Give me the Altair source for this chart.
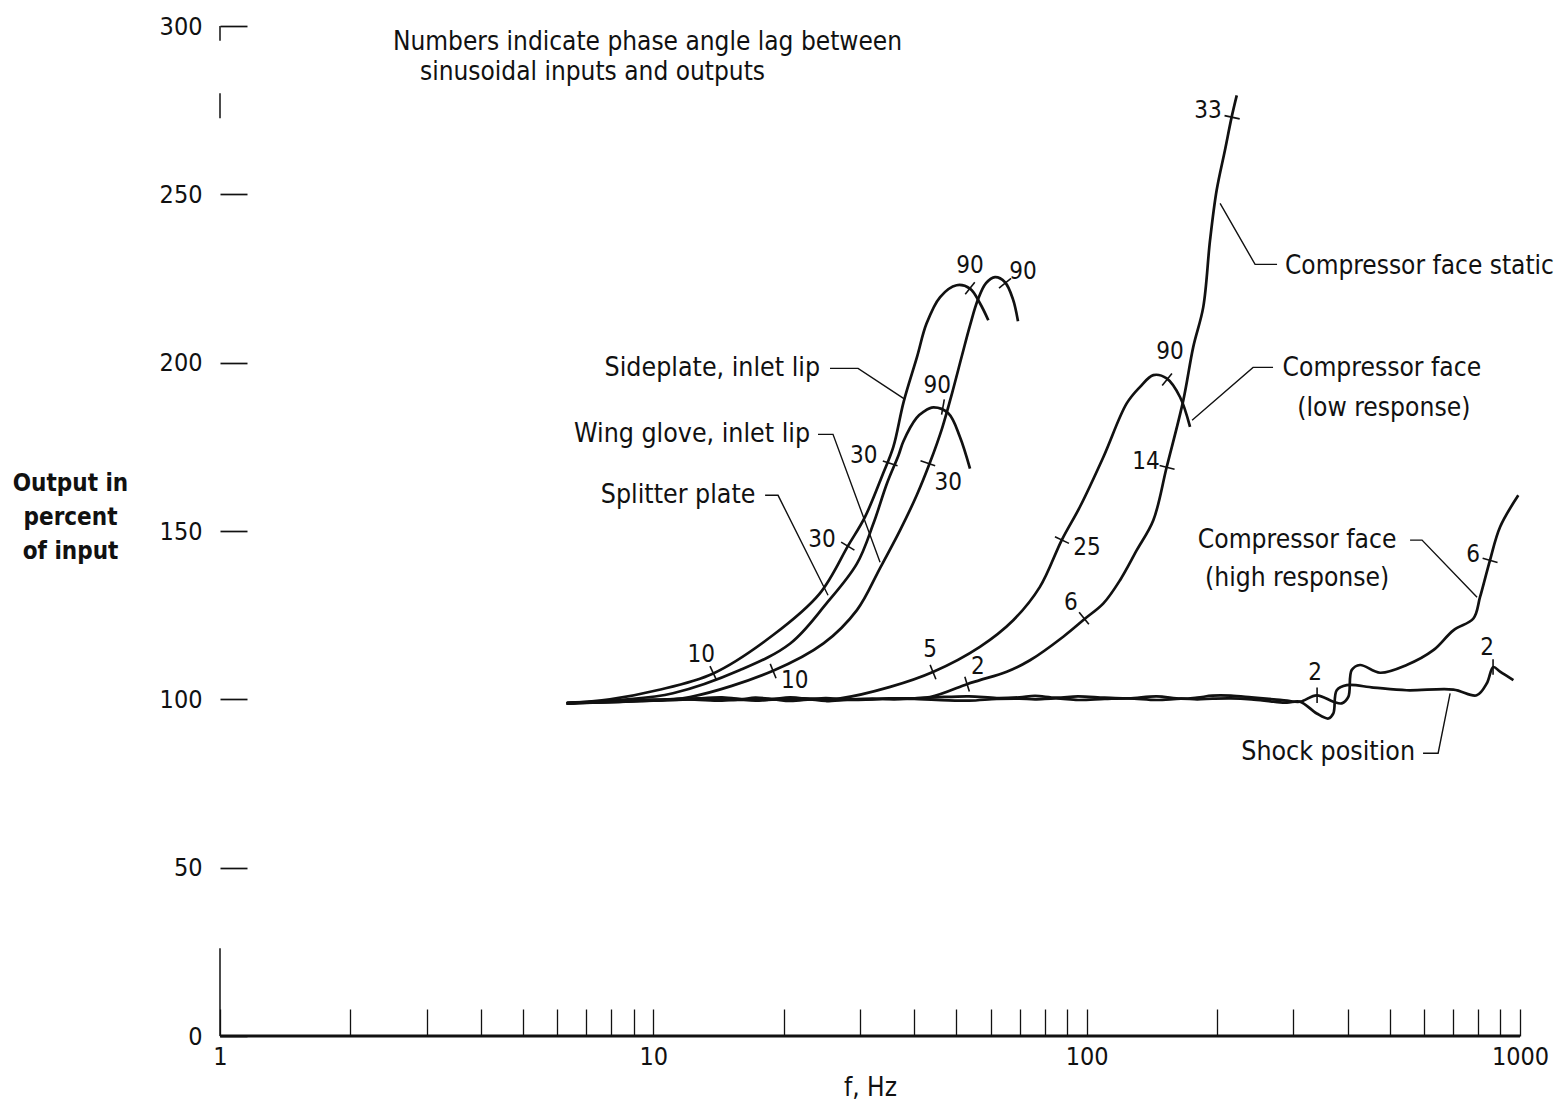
import altair as alt
import pandas as pd

FONT = "Liberation Sans Narrow, DejaVu Sans Condensed, Roboto, sans-serif"
INK = "#111111"

# ---------------- curve data (f in Hz, output in percent) ----------------
side_f = [6.31, 7.94, 10.2, 13.75, 18.9, 24.2, 28.2, 30.8, 33.9, 35.8, 37.8, 40.6, 42.7, 45.9, 50.1, 53.8, 56.8, 59.3]
side_v = [98.8, 100.0, 102.7, 107.7, 119.1, 131.4, 145.8, 154.2, 167.1, 175.0, 188.3, 201.7, 211.6, 219.5, 223.0, 222.0, 217.5, 212.6]

split_f = [6.31, 8.38, 11.1, 15.85, 20.7, 25.1, 29.5, 32.2, 34.6, 36.8, 37.75, 40.5, 42.0, 44.3, 48.0, 51.0, 53.8]
split_v = [98.8, 99.8, 101.8, 108.7, 116.6, 128.5, 140.3, 152.2, 164.1, 172.5, 176.6, 183.6, 185.4, 186.7, 184.9, 177.9, 168.5]

glove_f = [6.31, 9.3, 12.15, 18.9, 24.7, 29.5, 33.36, 37.09, 40.53, 43.51, 46.38, 48.9, 51.57, 53.81, 56.14, 58.58,
           61.45, 64.79, 67.61, 69.43]
glove_v = [98.8, 99.5, 100.7, 108.5, 116.6, 126.5, 139.0, 150.2, 160.6, 170.4, 180.5, 190.9, 202.2, 211.1, 218.8, 223.6,
           225.4, 223.9, 218.8, 212.3]

low_f = [6.31, 8, 10, 13, 16, 20, 24, 27.0, 35.2, 44.3, 56.7, 67.7, 78.0, 87.6, 96.5, 109.3, 123.7, 132.8, 142.5, 153.0, 164.2, 173.2]
low_v = [98.8, 99.3, 99.8, 100.2, 99.8, 100.2, 100.0, 100.3, 103.7, 108.2, 115.6, 123.5, 133.4, 147.3, 157.2, 172.0, 187.9, 192.8, 196.3, 195.3, 189.8, 180.9]

static_f = [6.31, 8, 10, 14, 18, 22, 28, 35, 43.5, 52.9, 56.7, 65.4, 74.0, 88.3, 99.2, 109.3, 119.4, 130.5, 142.5, 153.0,
            167.1, 176.2, 185.8, 192.6, 199.5, 208.5, 216.1, 222.0]
static_v = [98.8, 99.5, 99.9, 100.3, 99.8, 100.3, 99.8, 100.3, 100.7, 104.5, 105.7, 108.2, 111.6, 118.6, 124.0, 128.5, 135.4, 144.3, 153.2, 169.0,
            188.8, 204.7, 216.5, 236.3, 251.2, 263.1, 273.0, 279.4]

high_f = [6.31, 8, 10, 12, 14.4, 16, 17.2, 19, 20.7, 23, 25, 28, 32, 36, 40, 45, 53.5, 62, 70, 76, 85, 95.5, 110, 125, 145,
          165, 180, 195, 215, 240, 270, 290, 310.7,
          339.6, 370.9, 387.8, 401.6, 408.9, 427.4, 475.5, 547.6, 631, 701.9, 780.6, 808.8, 852.5, 899.5, 991]
high_v = [99.0, 99.4, 99.7, 100.0, 100.6, 100.0, 99.6, 100.1, 100.6, 100.0, 99.5, 99.9, 100.2, 100.0, 100.3, 100.6, 100.9, 100.4,
          100.6, 101.0, 100.5, 100.9, 100.5, 100.3, 100.9, 100.2, 100.5, 101.1, 101.1, 100.6, 100.0, 99.6, 99.3,
          101.2, 99.3, 98.8, 100.7, 108.7, 110.2, 107.9, 110.2, 114.6, 120.5, 124.0, 130.4, 141.3, 151.2, 160.6]

shock_f = [6.31, 8, 10, 12, 14.4, 16, 17.2, 19, 20.7, 23, 25, 28, 32, 36, 40, 45, 53.5, 62, 70, 76, 85, 95.5, 110, 125, 145,
           165, 180, 195, 215, 240, 270, 290, 310.7,
           339.6, 361.2, 370.9, 377.6, 398.3, 458.8, 547.6, 701.9, 794.3, 837.8, 868, 899.5, 965.5]
shock_v = [98.8, 99.2, 99.6, 100.0, 99.6, 100.0, 100.5, 100.0, 99.5, 100.0, 100.4, 99.9, 100.0, 100.2, 100.1, 99.8, 99.6, 100.1,
           100.2, 100.0, 100.3, 99.8, 100.1, 100.3, 99.8, 100.2, 100.0, 100.2, 100.3, 100.0, 99.3, 99.0, 99.3,
           95.8, 94.3, 95.8, 102.7, 104.2, 103.5, 102.7, 102.9, 101.2, 104.7, 109.6, 108.2, 105.7]

# ---------------- phase-angle tick marks ----------------
tick_f = [13.75, 18.9, 28.1, 35.2, 43.0, 53.8, 64.8, 46.6, 44.2, 87.7, 153.3, 52.97, 98.6, 153.3, 216.6, 340.2, 853, 866.6]
tick_v = [107.8, 108.4, 145.5, 170.1, 170.1, 222.1, 223.6, 186.8, 108.1, 147.3, 195.0, 104.5, 124.1, 168.9, 272.9, 101.2, 141.3, 109.6]
tick_ang = [65, 68, 31, 18, 19, 128, 141, 100, 68, 25, 129, 73, 51, 14, 12, 90, 16, 90]

lab_text = ["10", "10", "30", "30", "30", "90", "90", "90", "5", "2", "25", "6", "90", "14", "33", "2", "6", "2"]
lab_f = [12.9, 21.2, 24.5, 30.6, 47.9, 53.8, 71.3, 45.2, 43.5, 56.1, 100.2, 92.0, 155.7, 137.1, 190.6, 336.6, 779.3, 839.5]
lab_v = [113.1, 105.4, 147.3, 172.2, 164.2, 228.6, 226.8, 193.0, 114.6, 109.6, 144.9, 128.6, 203.1, 170.4, 274.9, 107.8, 142.8, 115.2]

# ---------------- annotations ----------------
right_text = ["Sideplate, inlet lip", "Wing glove, inlet lip", "Splitter plate", "Shock position"]
right_f = [24.25, 23.0, 17.2, 572.5]
right_v = [198.3, 178.7, 160.6, 84.3]

left_text = ["Compressor face static", "Numbers indicate phase angle lag between", "sinusoidal inputs and outputs"]
left_f = [286.9, 2.507, 2.894]
left_v = [228.6, 295.1, 286.2]

center_text = ["Compressor face", "(low response)", "Compressor face", "(high response)"]
center_f = [480, 485, 306, 306]
center_v = [198.3, 186.5, 147.3, 136.0]

lead_group = ["side"] * 3 + ["glove"] * 3 + ["split"] * 3 + ["static"] * 3 + ["low"] * 3 + ["high"] * 3 + ["shock"] * 3
lead_f = [25.57, 29.68, 38.09, 23.99, 25.98, 33.36, 18.11, 19.40, 25.30, 275, 244.7, 203.2,
          269.2, 242.1, 175.1, 557.6, 594.2, 796, 597.4, 647.2, 689.8]
lead_v = [198.3, 198.3, 189.1, 178.7, 178.7, 140.7, 160.6, 160.6, 130.9, 229.2, 229.2, 247.3,
          198.6, 198.6, 182.9, 147.3, 147.3, 130.3, 84.0, 84.0, 101.8]

x_tick_values = [1, 2, 3, 4, 5, 6, 7, 8, 9, 10, 20, 30, 40, 50, 60, 70, 80, 90,
                 100, 200, 300, 400, 500, 600, 700, 800, 900, 1000]
y_tick_values = [0, 50, 100, 150, 200, 250, 300]

# partial left axis line pieces (value ranges)
yaxis_lo = [0, 272.6, 295.6]
yaxis_hi = [26.1, 280.0, 300]

# ---------------- build tables ----------------
rows = []
for name, fs, vs in [("Sideplate", side_f, side_v), ("Splitter", split_f, split_v), ("Wing glove", glove_f, glove_v),
                     ("Low", low_f, low_v), ("Static", static_f, static_v), ("High", high_f, high_v),
                     ("Shock", shock_f, shock_v)]:
    for i, (f, v) in enumerate(zip(fs, vs)):
        rows.append({"series": name, "f": f, "v": v, "i": i})
curves = pd.DataFrame(rows)

ticks = pd.DataFrame({"f": tick_f, "v": tick_v, "ang": tick_ang})
labels = pd.DataFrame({"f": lab_f, "v": lab_v, "t": lab_text})
right_df = pd.DataFrame({"f": right_f, "v": right_v, "t": right_text})
left_df = pd.DataFrame({"f": left_f, "v": left_v, "t": left_text})
center_df = pd.DataFrame({"f": center_f, "v": center_v, "t": center_text})
leads = pd.DataFrame({"g": lead_group, "f": lead_f, "v": lead_v, "i": list(range(len(lead_f)))})
xbase = pd.DataFrame({"f": [1], "f2": [1000], "v": [0]})
yaxis = pd.DataFrame({"f": [1] * len(yaxis_lo), "v": yaxis_lo, "v2": yaxis_hi})

xscale = alt.Scale(type="log", domain=[1, 1000])
yscale = alt.Scale(domain=[0, 300], nice=False, zero=True)

X = alt.X("f:Q", scale=xscale,
          axis=alt.Axis(values=x_tick_values,
                        labelExpr="(datum.value == 1 || datum.value == 10 || datum.value == 100 || datum.value == 1000) ? format(datum.value, 'd') : ''",
                        tickSize=27, offset=-27, domain=False, grid=False, tickColor=INK, tickWidth=1.3,
                        labelFont=FONT, labelFontSize=25, labelColor=INK, labelPadding=8, labelFlush=False,
                        labelOverlap=False, title="f,  Hz", titleFont=FONT, titleFontSize=26,
                        titleFontWeight="normal", titleColor=INK, titlePadding=5))
Y = alt.Y("v:Q", scale=yscale,
          axis=alt.Axis(values=y_tick_values, tickSize=27, offset=-27, domain=False, grid=False,
                        tickColor=INK, tickWidth=1.7, labelFont=FONT, labelFontSize=25, labelColor=INK,
                        labelPadding=18, labelFlush=False,
                        title=["Output in", "percent", "of input"], titleFont=FONT, titleFontSize=24,
                        titleFontWeight="bold", titleColor=INK, titleAngle=0, titleAlign="center",
                        titleBaseline="middle", titleLineHeight=34, titleX=-177, titleY=457))

lines = alt.Chart(curves).mark_line(color=INK, strokeWidth=2.7, interpolate="catmull-rom").encode(
    x=X, y=Y, detail="series:N", order="i:Q")

base_rule = alt.Chart(xbase).mark_rule(color=INK, strokeWidth=3.2).encode(
    x="f:Q", x2="f2:Q", y="v:Q")
y_rule = alt.Chart(yaxis).mark_rule(color=INK, strokeWidth=1.5).encode(
    x="f:Q", y="v:Q", y2="v2:Q")

tick_marks = alt.Chart(ticks).mark_point(shape="M-1,0L1,0", size=240, color=INK, strokeWidth=1.6,
                                          filled=False, opacity=1).encode(
    x="f:Q", y="v:Q", angle=alt.Angle("ang:Q", scale=None))

tick_labels = alt.Chart(labels).mark_text(font=FONT, fontSize=24, color=INK, align="center",
                                          baseline="middle").encode(x="f:Q", y="v:Q", text="t:N")

leaders = alt.Chart(leads).mark_line(color=INK, strokeWidth=1.4).encode(
    x="f:Q", y="v:Q", detail="g:N", order="i:Q")

txt_r = alt.Chart(right_df).mark_text(font=FONT, fontSize=26.5, color=INK, align="right",
                                      baseline="middle").encode(x="f:Q", y="v:Q", text="t:N")
txt_l = alt.Chart(left_df).mark_text(font=FONT, fontSize=26, color=INK, align="left",
                                     baseline="middle").encode(x="f:Q", y="v:Q", text="t:N")
txt_c = alt.Chart(center_df).mark_text(font=FONT, fontSize=26.2, color=INK, align="center",
                                       baseline="middle").encode(x="f:Q", y="v:Q", text="t:N")

chart = alt.layer(lines, base_rule, y_rule, leaders, tick_marks, tick_labels, txt_r, txt_l, txt_c).properties(
    width=1300, height=1010,
    autosize=alt.AutoSizeParams(type="none"),
    padding={"left": 220, "top": 26, "right": 40, "bottom": 70},
    background="white",
).configure_view(stroke=None)

chart.save("out.html", embed_options={"renderer": "svg", "actions": False})
